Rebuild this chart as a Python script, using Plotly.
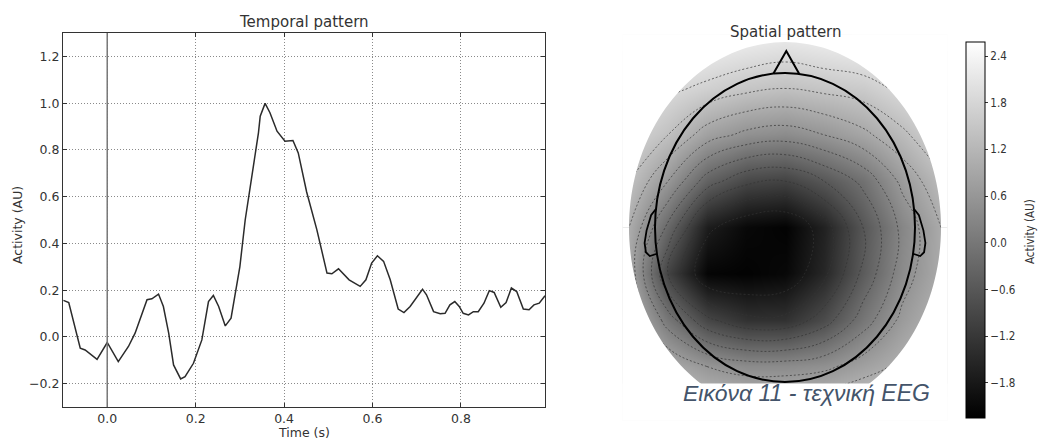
import numpy as np
import plotly.graph_objects as go

# ---------------- data ----------------
times = [-0.099, -0.087, -0.061, -0.050, -0.023, 0.000, 0.025, 0.048, 0.063, 0.078,
         0.090, 0.101, 0.116, 0.127, 0.139, 0.150, 0.166, 0.176, 0.195, 0.214,
         0.229, 0.240, 0.252, 0.267, 0.280, 0.300, 0.312, 0.342, 0.346, 0.357,
         0.368, 0.384, 0.402, 0.420, 0.432, 0.451, 0.474, 0.497, 0.508, 0.523,
         0.547, 0.572, 0.585, 0.598, 0.611, 0.625, 0.640, 0.658, 0.671, 0.685,
         0.713, 0.722, 0.738, 0.753, 0.764, 0.775, 0.786, 0.796, 0.805, 0.817,
         0.828, 0.839, 0.852, 0.864, 0.875, 0.890, 0.902, 0.914, 0.926, 0.941,
         0.954, 0.965, 0.977, 0.990]
activity = [0.156, 0.147, -0.048, -0.056, -0.096, -0.024, -0.106, -0.041, 0.016, 0.094,
            0.159, 0.163, 0.183, 0.130, 0.016, -0.120, -0.180, -0.170, -0.113, -0.013,
            0.151, 0.177, 0.130, 0.047, 0.080, 0.301, 0.500, 0.873, 0.944, 0.999,
            0.959, 0.880, 0.837, 0.840, 0.787, 0.620, 0.459, 0.273, 0.270, 0.291,
            0.244, 0.216, 0.244, 0.316, 0.347, 0.323, 0.244, 0.119, 0.104, 0.130,
            0.204, 0.180, 0.108, 0.099, 0.101, 0.137, 0.151, 0.130, 0.101, 0.094,
            0.108, 0.108, 0.144, 0.198, 0.190, 0.127, 0.147, 0.209, 0.194, 0.119,
            0.116, 0.137, 0.144, 0.176]

x_ticks = [0.0, 0.2, 0.4, 0.6, 0.8]
y_ticks = [-0.2, 0.0, 0.2, 0.4, 0.6, 0.8, 1.0, 1.2]

# spatial map (head units), rows from bottom (v=-1.2) to top (v=1.2)
grid_u = [-1.2, -0.9, -0.6, -0.3, 0.0, 0.3, 0.6, 0.9, 1.2]
grid_v = [-1.2, -0.9, -0.6, -0.3, 0.0, 0.3, 0.6, 0.9, 1.2]
row_m12 = [1.9, 1.7, 1.5, 1.4, 1.4, 1.5, 1.6, 1.8, 1.9]
row_m09 = [1.5, 1.0, 0.6, 0.4, 0.4, 0.5, 0.8, 1.1, 1.5]
row_m06 = [1.2, 0.0, -0.9, -1.3, -1.3, -0.8, 0.0, 0.7, 1.2]
row_m03 = [0.9, -1.0, -2.15, -2.2, -2.1, -1.5, -0.5, 0.4, 1.0]
row_000 = [1.0, -0.3, -1.7, -2.1, -2.2, -1.6, -0.6, 0.3, 1.0]
row_p03 = [1.4, 0.6, -0.4, -0.9, -1.0, -0.6, -0.1, 0.7, 1.3]
row_p06 = [1.8, 1.4, 0.8, 0.5, 0.4, 0.6, 0.9, 1.3, 1.8]
row_p09 = [2.2, 1.9, 1.7, 1.5, 1.4, 1.5, 1.6, 1.9, 2.2]
row_p12 = [2.4, 2.4, 2.3, 2.2, 2.1, 2.2, 2.3, 2.4, 2.4]
spatial = [row_m12, row_m09, row_m06, row_m03, row_000, row_p03, row_p06, row_p09, row_p12]

cbar_ticks = [-1.8, -1.2, -0.6, 0.0, 0.6, 1.2, 1.8, 2.4]
z_min, z_max = -2.25, 2.58

# ---------------- figure ----------------
W, H = 1038, 440
FONT = "DejaVu Sans"
TXT = "#333333"

fig = go.Figure()

fig.add_trace(go.Scatter(x=times, y=activity, mode="lines",
                         line=dict(color="#2b2b2b", width=1.5),
                         xaxis="x", yaxis="y", showlegend=False))

fig.add_trace(go.Heatmap(x=grid_u, y=grid_v, z=spatial, zsmooth="best",
                         colorscale=[[0, "black"], [1, "white"]],
                         zmin=z_min, zmax=z_max, xaxis="x2", yaxis="y2",
                         showlegend=False,
                         colorbar=dict(
                             x=966 / W, xanchor="left", xpad=0, ypad=0, thickness=19,
                             lenmode="pixels", len=376,
                             y=(H - 230) / H, yanchor="middle",
                             outlinewidth=1, outlinecolor="black",
                             tickvals=cbar_ticks,
                             ticktext=[("\u2212" if t < 0 else "") + f"{abs(t):.1f}" for t in cbar_ticks],
                             ticks="outside", ticklen=3, tickcolor="#333",
                             tickfont=dict(family="DejaVu Sans Condensed", size=11.5, color=TXT),
                         )))

fig.add_trace(go.Contour(x=grid_u, y=grid_v, z=spatial, xaxis="x2", yaxis="y2",
                         showscale=False, showlegend=False, hoverinfo="skip",
                         contours=dict(coloring="none", start=-1.8, end=2.2, size=0.4),
                         line=dict(color="#333333", width=0.7, dash="2px,2px", smoothing=1.2)))

# ---- shapes ----
disc_r = 1.2
top_arc = np.linspace(np.pi, 0, 91)
bot_arc = np.linspace(np.pi, 2 * np.pi, 91)


def arc_pts(angles):
    return " L ".join(f"{disc_r*np.cos(t):.4f} {disc_r*np.sin(t):.4f}" for t in angles)


mask_top = "M -1.5 0 L " + arc_pts(top_arc) + " L 1.5 0 L 1.5 1.5 L -1.5 1.5 Z"
mask_bot = "M -1.5 0 L " + arc_pts(bot_arc) + " L 1.5 0 L 1.5 -1.5 L -1.5 -1.5 Z"

shapes = [
    dict(type="line", x0=0, x1=0, y0=0, y1=1, xref="x", yref="y domain",
         line=dict(color="#777777", width=1.5), layer="above"),
    dict(type="path", path=mask_top, xref="x2", yref="y2", fillcolor="white",
         line=dict(width=0), layer="above"),
    dict(type="path", path=mask_bot, xref="x2", yref="y2", fillcolor="white",
         line=dict(width=0), layer="above"),
    dict(type="rect", x0=-1.5, x1=1.5, y0=-1.5, y1=-1.01, xref="x2", yref="y2",
         fillcolor="white", line=dict(width=0), layer="above"),
    dict(type="circle", x0=-1, x1=1, y0=-1, y1=1, xref="x2", yref="y2",
         line=dict(color="black", width=2), layer="above"),
    dict(type="path", path="M -0.09 0.996 L 0.01 1.142 L 0.11 0.994",
         xref="x2", yref="y2", line=dict(color="black", width=2), layer="above"),
]
ear_l = [(-0.993, 0.12), (-1.03, 0.08), (-1.065, -0.02), (-1.08, -0.10),
         (-1.07, -0.16), (-1.04, -0.185), (-0.985, -0.17)]
for sgn in (1, -1):
    pts = [(sgn * a, b) for a, b in ear_l]
    shapes.append(dict(type="path",
                       path="M " + " L ".join(f"{a} {b}" for a, b in pts),
                       xref="x2", yref="y2", line=dict(color="black", width=1.8),
                       layer="above"))

annotations = [
    dict(text="Temporal pattern", x=304 / W, y=(H - 22) / H, xref="paper", yref="paper",
         xanchor="center", yanchor="middle", showarrow=False,
         font=dict(family=FONT, size=15, color=TXT)),
    dict(text="Spatial pattern", x=786 / W, y=(H - 32) / H, xref="paper", yref="paper",
         xanchor="center", yanchor="middle", showarrow=False,
         font=dict(family=FONT, size=15, color=TXT)),
    dict(text="Time (s)", x=304 / W, y=(H - 423) / H, xref="paper", yref="paper",
         xanchor="center", yanchor="top", showarrow=False,
         font=dict(family=FONT, size=12.5, color=TXT)),
    dict(text="Activity (AU)", x=17 / W, y=(H - 225) / H, xref="paper", yref="paper",
         xanchor="center", yanchor="middle", showarrow=False, textangle=-90,
         font=dict(family=FONT, size=12.5, color=TXT)),
    dict(text="Activity (AU)", x=1030 / W, y=(H - 232) / H, xref="paper", yref="paper",
         xanchor="center", yanchor="middle", showarrow=False, textangle=-90,
         font=dict(family="DejaVu Sans Condensed", size=11.5, color=TXT)),
    dict(text="Εικόνα 11 - τεχνική EEG", x=806 / W, y=(H - 393) / H,
         xref="paper", yref="paper", showarrow=False, xanchor="center", yanchor="middle",
         font=dict(family="Liberation Sans", size=23, color="#44546a", style="italic")),
]

axis_common = dict(showline=True, linecolor="#333", linewidth=1.2, mirror="ticks",
                   ticks="inside", ticklen=4, tickcolor="#333",
                   showgrid=True, gridcolor="#8a8a8a", griddash="1px,2px", gridwidth=1,
                   zeroline=False, tickfont=dict(family=FONT, size=12.5, color=TXT))

layout = go.Layout(
    width=W, height=H, margin=dict(l=0, r=0, t=0, b=0, autoexpand=False),
    showlegend=False,
    paper_bgcolor="white", plot_bgcolor="white",
    xaxis=dict(domain=[63 / W, 545 / W], range=[-0.1, 0.99], anchor="y",
               tickvals=x_ticks, tickformat=".1f", **axis_common),
    yaxis=dict(domain=[(H - 407) / H, (H - 33) / H], range=[-0.3, 1.3], anchor="x",
               tickvals=y_ticks, tickformat=".1f", **axis_common),
    xaxis2=dict(domain=[622.5 / W, 947.5 / W], range=[-1.25, 1.25], visible=False,
                anchor="y2"),
    yaxis2=dict(domain=[(H - 420.6) / H, (H - 34.4) / H], range=[-1.25, 1.25],
                visible=False, anchor="x2"),
    shapes=shapes, annotations=annotations,
)
fig.layout = layout

fig.write_html("out.html", config={"displayModeBar": False},
               post_script="document.body.style.margin='0';document.body.style.overflow='hidden';")
